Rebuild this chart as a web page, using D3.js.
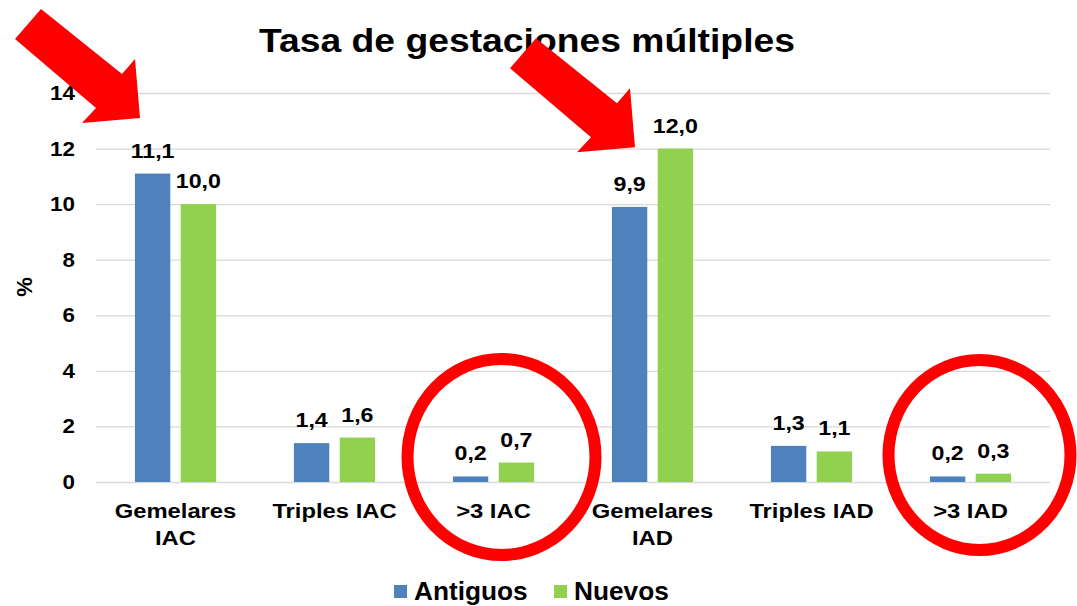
<!DOCTYPE html>
<html>
<head>
<meta charset="utf-8">
<script src="https://cdn.jsdelivr.net/npm/d3@7"></script>
<style>
  html, body { margin: 0; padding: 0; background: #fff; }
  svg { display: block; font-family: Arial, "Liberation Sans", sans-serif; }
</style>
</head>
<body>
<svg id="chart" width="1077" height="606"></svg>
<script>
const categories = [['Gemelares', 'IAC'], ['Triples IAC'], ['>3 IAC'], ['Gemelares', 'IAD'], ['Triples IAD'], ['>3 IAD']];
const antiguos = [11.1, 1.4, 0.2, 9.9, 1.3, 0.2];
const nuevos = [10.0, 1.6, 0.7, 12.0, 1.1, 0.3];
const seriesNames = ['Antiguos', 'Nuevos'];
const yTicks = [0, 2, 4, 6, 8, 10, 12, 14];

const colors = ['#4F81BD', '#92D050'];
const plot = { left: 96, right: 1050, top: 93, bottom: 482 };

const svg = d3.select('#chart');
const fmt = v => v.toFixed(1).replace('.', ',');

const x = d3.scaleBand().domain(d3.range(categories.length)).range([plot.left, plot.right]);
const xs = d3.scaleBand().domain([0, 1]).range([0, x.bandwidth()]).paddingInner(0.228).paddingOuter(0.85);
const y = d3.scaleLinear().domain([0, 14]).range([plot.bottom, plot.top]);

// the source picture is slightly stretched horizontally, so text gets a scaleX
function stretched(sel, sx) {
  return sel.attr('transform', function () {
    const t = d3.select(this);
    const px = +t.attr('data-x'), py = +t.attr('data-y');
    return `translate(${px},${py}) scale(${sx},1)`;
  });
}

// gridlines
svg.append('g').selectAll('line').data(yTicks).join('line')
  .attr('x1', plot.left).attr('x2', plot.right)
  .attr('y1', d => y(d) + 0.5).attr('y2', d => y(d) + 0.5)
  .attr('stroke', '#D9D9D9').attr('stroke-width', 1.3);

// y tick labels
svg.append('g').selectAll('text').data(yTicks).join('text')
  .attr('data-x', 75).attr('data-y', d => y(d) + 7)
  .attr('text-anchor', 'end').attr('font-size', 20).attr('font-weight', 'bold')
  .text(d => d)
  .call(stretched, 1.12);

// y axis title
svg.append('text')
  .attr('transform', 'translate(32,287) rotate(-90)')
  .attr('text-anchor', 'middle').attr('font-size', 22).attr('font-weight', 'bold')
  .text('%');

// bars + value labels
const series = [antiguos, nuevos];
series.forEach((vals, s) => {
  const g = svg.append('g');
  g.selectAll('rect').data(vals).join('rect')
    .attr('x', (d, i) => x(i) + xs(s))
    .attr('y', d => y(d))
    .attr('width', xs.bandwidth())
    .attr('height', d => y(0) - y(d))
    .attr('fill', colors[s]);
  g.selectAll('text').data(vals).join('text')
    .attr('data-x', (d, i) => x(i) + xs(s) + xs.bandwidth() / 2)
    .attr('data-y', d => y(d) - 16)
    .attr('text-anchor', 'middle').attr('font-size', 20).attr('font-weight', 'bold')
    .text(d => fmt(d))
    .call(stretched, 1.16);
});

// category labels
const cat = svg.append('g').selectAll('text').data(categories).join('text')
  .attr('data-x', (d, i) => x(i) + x.bandwidth() / 2)
  .attr('data-y', 518)
  .attr('text-anchor', 'middle').attr('font-size', 20).attr('font-weight', 'bold')
  .call(stretched, 1.19);
cat.selectAll('tspan').data(d => d).join('tspan')
  .attr('x', 0)
  .attr('dy', (d, i) => i === 0 ? 0 : 27)
  .text(d => d);

// title
svg.append('text')
  .attr('data-x', 527).attr('data-y', 52)
  .attr('text-anchor', 'middle').attr('font-size', 33).attr('font-weight', 'bold')
  .text('Tasa de gestaciones múltiples')
  .call(stretched, 1.13);

// legend
const legendX = [394, 554];
const lg = svg.append('g').selectAll('g').data(seriesNames).join('g')
  .attr('transform', (d, i) => `translate(${legendX[i]},585)`);
lg.append('rect').attr('width', 13).attr('height', 13).attr('fill', (d, i) => colors[i]);
lg.append('text').attr('data-x', 20).attr('data-y', 15)
  .attr('font-size', 25).attr('font-weight', 'bold').text(d => d)
  .call(stretched, 1.05);

// red annotation circles around the ">3" groups
const circles = [{ i: 2, dx: 8, cy: 457, rx: 94, ry: 98 }, { i: 5, dx: 9, cy: 455, rx: 91, ry: 95 }];
svg.append('g').selectAll('ellipse').data(circles).join('ellipse')
  .attr('cx', d => x(d.i) + x.bandwidth() / 2 + d.dx)
  .attr('cy', d => d.cy)
  .attr('rx', d => d.rx).attr('ry', d => d.ry)
  .attr('fill', 'none').attr('stroke', '#FF0000').attr('stroke-width', 12);

// red arrows pointing at the Gemelares groups (shape relative to tip)
const arrowShape = [[-99, -109], [-18, -44], [-5, -59], [0, 0], [-58, 5], [-44, -10], [-125, -79]];
const arrows = [{ i: 0, dx: 44, v: 13.1 }, { i: 3, dx: 62, v: 12.05 }];
svg.append('g').selectAll('polygon').data(arrows).join('polygon')
  .attr('points', d => {
    const tx = x(d.i) + d.dx, ty = y(d.v);
    return arrowShape.map(p => `${tx + p[0]},${ty + p[1]}`).join(' ');
  })
  .attr('fill', '#FF0000');
</script>
</body>
</html>
